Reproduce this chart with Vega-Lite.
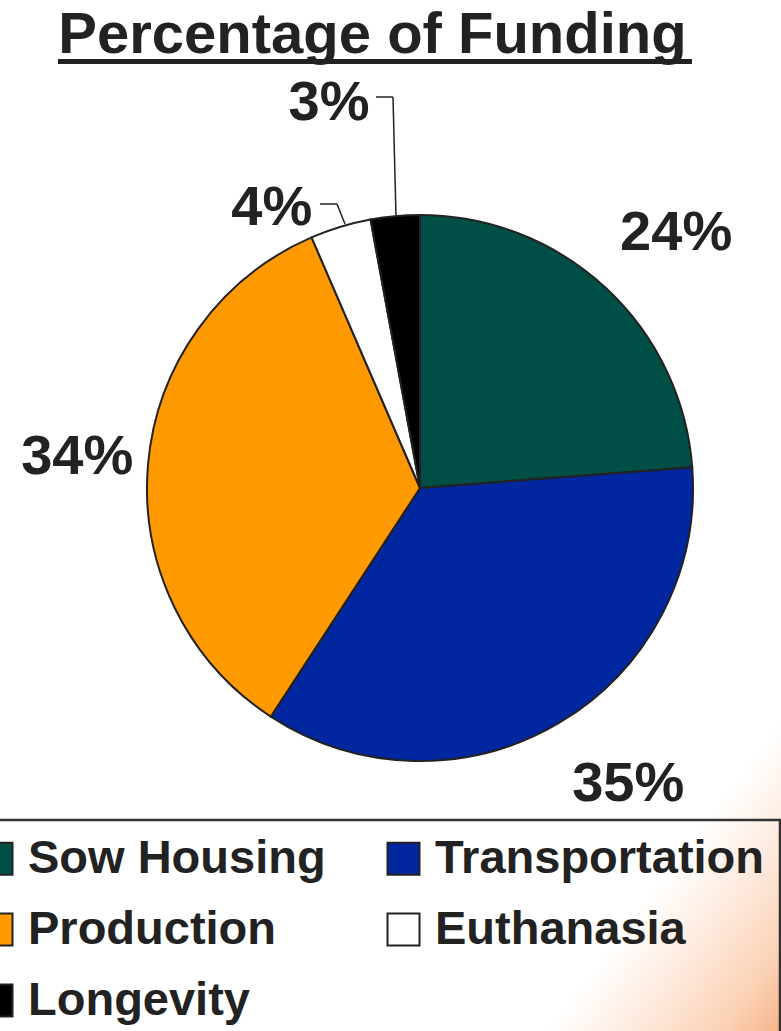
{
  "$schema": "https://vega.github.io/schema/vega-lite/v6.json",
  "width": 781,
  "height": 1031,
  "autosize": {"type": "none"},
  "padding": 0,
  "background": "#ffffff",
  "view": {
    "stroke": null,
    "fill": {
      "gradient": "linear", "x1": 0, "y1": 0, "x2": 1, "y2": 1,
      "stops": [
        {"offset": 0, "color": "#ffffff"},
        {"offset": 0.85, "color": "#ffffff"},
        {"offset": 0.91, "color": "#fde8da"},
        {"offset": 0.96, "color": "#fbd2b6"},
        {"offset": 1, "color": "#f6b58a"}
      ]
    }
  },
  "title": {
    "text": "Percentage of Funding",
    "font": "Liberation Sans",
    "fontWeight": "bold",
    "fontSize": 58,
    "color": "#222222",
    "anchor": "middle",
    "baseline": "alphabetic",
    "offset": -59,
    "dx": -18,
    "dy": 52
  },
  "data": {
    "values": [
      {"category": "Sow Housing", "value": 0.238, "rank": 1},
      {"category": "Transportation", "value": 0.354, "rank": 2},
      {"category": "Production", "value": 0.343, "rank": 3},
      {"category": "Euthanasia", "value": 0.036, "rank": 4},
      {"category": "Longevity", "value": 0.029, "rank": 5}
    ]
  },
  "layer": [
    {
      "mark": {"type": "arc", "outerRadius": 273, "stroke": "#222222", "strokeWidth": 2, "xOffset": 29.5, "yOffset": -27.5},
      "encoding": {
        "theta": {"field": "value", "type": "quantitative", "stack": true},
        "order": {"field": "rank", "type": "quantitative"},
        "color": {
          "field": "category",
          "type": "nominal",
          "scale": {
            "domain": ["Sow Housing", "Production", "Longevity", "Transportation", "Euthanasia"],
            "range": ["#004f47", "#ff9900", "#000000", "#0026a0", "#ffffff"]
          },
          "legend": {
            "title": null,
            "orient": "none",
            "legendX": -42,
            "legendY": 820,
            "columns": 2,
            "symbolType": "square",
            "symbolSize": 1024,
            "symbolStrokeColor": "#222222",
            "symbolStrokeWidth": 2,
            "labelFont": "Liberation Sans",
            "labelFontWeight": "bold",
            "labelFontSize": 47,
            "labelColor": "#222222",
            "labelOffset": 8,
            "labelLimit": 600,
            "columnPadding": 54,
            "rowPadding": 23,
            "padding": 15,
            "strokeColor": "#333333",
            "encode": {"legend": {"update": {"strokeWidth": {"value": 2.5}}}}
          }
        }
      }
    },
    {
      "mark": {"type": "text", "font": "Liberation Sans", "fontWeight": "bold", "fontSize": 56, "fill": "#222222", "align": "center", "baseline": "middle", "xOffset": 29.5, "yOffset": -27.5, "dx": 10, "dy": 10},
      "encoding": {
        "theta": {"field": "value", "type": "quantitative", "stack": true},
        "order": {"field": "rank", "type": "quantitative"},
        "radius": {"value": 362},
        "text": {"condition": {"test": "datum.category === 'Sow Housing'", "field": "value", "type": "quantitative", "format": ".0%"}, "value": ""}
      }
    },
    {
      "mark": {"type": "text", "font": "Liberation Sans", "fontWeight": "bold", "fontSize": 56, "fill": "#222222", "align": "center", "baseline": "middle", "xOffset": 29.5, "yOffset": -27.5, "dx": 24, "dy": -16},
      "encoding": {
        "theta": {"field": "value", "type": "quantitative", "stack": true},
        "order": {"field": "rank", "type": "quantitative"},
        "radius": {"value": 362},
        "text": {"condition": {"test": "datum.category === 'Transportation'", "field": "value", "type": "quantitative", "format": ".0%"}, "value": ""}
      }
    },
    {
      "mark": {"type": "text", "font": "Liberation Sans", "fontWeight": "bold", "fontSize": 56, "fill": "#222222", "align": "center", "baseline": "middle", "xOffset": 29.5, "yOffset": -27.5, "dx": 0, "dy": -2},
      "encoding": {
        "theta": {"field": "value", "type": "quantitative", "stack": true},
        "order": {"field": "rank", "type": "quantitative"},
        "radius": {"value": 344},
        "text": {"condition": {"test": "datum.category === 'Production'", "field": "value", "type": "quantitative", "format": ".0%"}, "value": ""}
      }
    },
    {
      "mark": {"type": "text", "font": "Liberation Sans", "fontWeight": "bold", "fontSize": 56, "fill": "#222222", "align": "center", "baseline": "middle", "xOffset": 29.5, "yOffset": -27.5, "dx": -56, "dy": 23},
      "encoding": {
        "theta": {"field": "value", "type": "quantitative", "stack": true},
        "order": {"field": "rank", "type": "quantitative"},
        "radius": {"value": 317},
        "text": {"condition": {"test": "datum.category === 'Euthanasia'", "field": "value", "type": "quantitative", "format": ".0%"}, "value": ""}
      }
    },
    {
      "mark": {"type": "text", "font": "Liberation Sans", "fontWeight": "bold", "fontSize": 56, "fill": "#222222", "align": "center", "baseline": "middle", "xOffset": 29.5, "yOffset": -27.5, "dx": -55, "dy": 9},
      "encoding": {
        "theta": {"field": "value", "type": "quantitative", "stack": true},
        "order": {"field": "rank", "type": "quantitative"},
        "radius": {"value": 396},
        "text": {"condition": {"test": "datum.category === 'Longevity'", "field": "value", "type": "quantitative", "format": ".0%"}, "value": ""}
      }
    },
    {
      "data": {"values": [{}]},
      "mark": {"type": "rule", "stroke": "#222222", "strokeWidth": 5},
      "encoding": {"x": {"value": 58}, "x2": {"value": 692}, "y": {"value": 61.5}}
    },
    {
      "data": {"values": [{}]},
      "mark": {"type": "rule", "stroke": "#222222", "strokeWidth": 1.5},
      "encoding": {"x": {"value": 376}, "x2": {"value": 393}, "y": {"value": 97}, "y2": {"value": 97}}
    },
    {
      "data": {"values": [{}]},
      "mark": {"type": "rule", "stroke": "#222222", "strokeWidth": 1.5},
      "encoding": {"x": {"value": 393}, "x2": {"value": 396}, "y": {"value": 97}, "y2": {"value": 217}}
    },
    {
      "data": {"values": [{}]},
      "mark": {"type": "rule", "stroke": "#222222", "strokeWidth": 1.5},
      "encoding": {"x": {"value": 320}, "x2": {"value": 337}, "y": {"value": 204}, "y2": {"value": 204}}
    },
    {
      "data": {"values": [{}]},
      "mark": {"type": "rule", "stroke": "#222222", "strokeWidth": 1.5},
      "encoding": {"x": {"value": 337}, "x2": {"value": 345}, "y": {"value": 204}, "y2": {"value": 224}}
    }
  ]
}
